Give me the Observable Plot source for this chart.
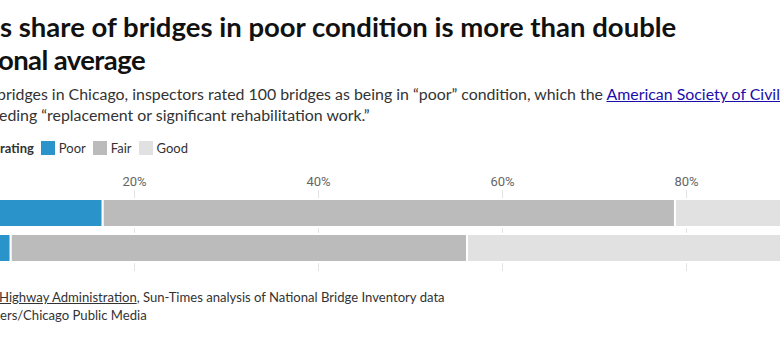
<!DOCTYPE html>
<html>
<head>
<meta charset="utf-8">
<script src="https://cdn.jsdelivr.net/npm/d3@7"></script>
<script src="https://cdn.jsdelivr.net/npm/@observablehq/plot@0.6"></script>
<style>
  html, body { margin: 0; padding: 0; width: 780px; height: 361px; overflow: hidden; background: #fff; }
  body { position: relative; font-family: Lato, "Noto Sans", sans-serif; color: #222; }
  .line { position: absolute; left: 0; white-space: nowrap; }
  .pre { position: absolute; right: 100%; white-space: nowrap; }
  .title { font-weight: 700; font-size: 27.5px; color: #111; }
  .sub { font-size: 15.9px; color: #333; }
  .sub a { color: #1a0dab; }
  .leg { font-size: 13px; color: #333; display: flex; align-items: center; }
  .sw { display: inline-block; width: 14px; height: 14px; margin: 0 4px 0 7px; }
  .src { font-size: 13.1px; color: #333; }
  .src u { text-decoration: underline; }
  #chart { position: absolute; left: -200px; top: 165px; width: 1100px; }
  #chart svg { max-width: none !important; }
</style>
</head>
<body>
<div class="line title" style="top:10px;"><span class="pre">Chicago'</span>s share of bridges in poor condition is more than double</div>
<div class="line title" style="top:43px;left:-2px;letter-spacing:-0.6px;"><span class="pre">the nati</span>onal average</div>
<div class="line sub" style="top:84px;left:-3px;"><span class="pre">Of the 606 </span>bridges in Chicago, inspectors rated 100 bridges as being in “poor” condition, which the <a href="#">American Society of Civil Engineers</a> describes as</div>
<div class="line sub" style="top:105px;left:-1px;"><span class="pre">ne</span>eding “replacement or significant rehabilitation work.”</div>
<div class="line leg" style="top:140px;"><span class="pre" style="font-weight:700;">Condition </span><b>rating</b>
  <span class="sw" id="sw0"></span>Poor<span class="sw" id="sw1"></span>Fair<span class="sw" id="sw2"></span>Good</div>
<div class="line src" style="top:289px;left:-1px;"><span class="pre">Source: Federal </span><u>Highway Administration</u>, Sun-Times analysis of National Bridge Inventory data</div>
<div class="line src" style="top:307px;"><span class="pre">Graphic: Sun-Times and WBEZ report</span>ers/Chicago Public Media</div>
<div id="chart"></div>
<script>
const places = ["Chicago", "National"];
const ratings = ["Poor", "Fair", "Good"];
const colors = ["#2a93c9", "#bbbbbb", "#e1e1e1"];
const poor = [0.166, 0.066];
const fair = [0.622, 0.496];
const good = [0.212, 0.438];
const tickValues = [0, 0.2, 0.4, 0.6, 0.8, 1];

ratings.forEach((r, i) => document.getElementById("sw" + i).style.background = colors[i]);

const rows = [];
places.forEach((p, i) => {
  rows.push({place: p, rating: "Poor", value: poor[i]});
  rows.push({place: p, rating: "Fair", value: fair[i]});
  rows.push({place: p, rating: "Good", value: good[i]});
});

const chart = Plot.plot({
  width: 1100,
  height: 110,
  marginLeft: 150,
  marginRight: 30,
  marginTop: 34,
  marginBottom: 13,
  style: {fontFamily: "Roboto, sans-serif", fontSize: "13px", color: "#666", overflow: "visible", maxWidth: "none"},
  x: {domain: [0, 1], axis: null},
  y: {domain: places, paddingInner: 0.2, paddingOuter: 0, axis: null},
  color: {domain: ratings, range: colors},
  marks: [
    Plot.ruleX(tickValues, {x: d => d, stroke: "#e4e4e4", strokeWidth: 1, insetTop: -9, insetBottom: -9}),
    Plot.barX(rows, Plot.stackX({x: "value", y: "place", fill: "rating", order: ratings, stroke: "#fff", strokeWidth: 2})),
    Plot.axisX({anchor: "top", ticks: tickValues, tickSize: 0, tickPadding: 14, label: null, tickFormat: d => Math.round(d * 100) + "%", fill: "#666"}),
    Plot.text(places, {x: 0, y: d => d, text: d => d, textAnchor: "end", dx: -8, fill: "#333", fontSize: 13})
  ]
});
document.getElementById("chart").appendChild(chart);
</script>
</body>
</html>
